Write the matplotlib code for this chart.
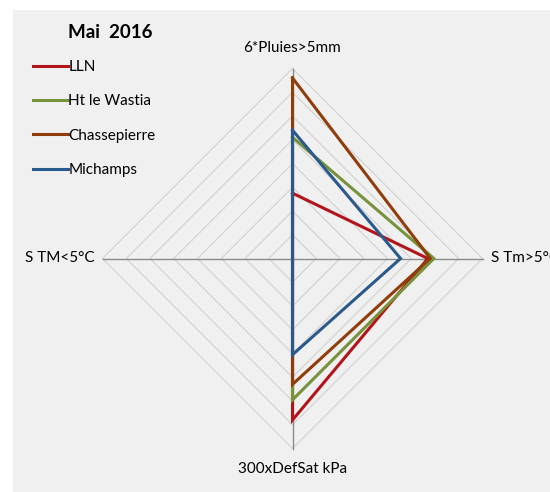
import numpy as np
import matplotlib
matplotlib.use("Agg")
import matplotlib.pyplot as plt
from matplotlib.patches import Rectangle

plt.rcParams['font.family'] = ['Lato', 'DejaVu Sans']

# axes of the radar, clockwise from top
axes_labels = ['6*Pluies>5mm', 'S Tm>5°C', '300xDefSat kPa', 'S TM<5°C']
stations = ['LLN', 'Ht le Wastia', 'Chassepierre', 'Michamps']
values = {
    'LLN':          [2.75, 5.7, 6.8, 0],
    'Ht le Wastia': [5.1, 5.95, 5.95, 0],
    'Chassepierre': [7.6, 5.8, 5.3, 0],
    'Michamps':     [5.4, 4.55, 4.05, 0],
}
colors = {'LLN': '#b3141c', 'Ht le Wastia': '#77933c',
          'Chassepierre': '#8f3d0a', 'Michamps': '#2a5a8c'}
rmax = 8

angles = np.pi / 2 - np.arange(4) * np.pi / 2

def to_xy(r):
    r = np.asarray(r, dtype=float)
    return r * np.cos(angles), r * np.sin(angles)

fig = plt.figure(figsize=(5.5, 4.92), dpi=100)
fig.patch.set_facecolor('white')
fig.patches.append(Rectangle((13 / 550, 0), 1, 1 - 10 / 492, transform=fig.transFigure,
                             facecolor='#f0f0f0', edgecolor='none', zorder=-10))

ax = fig.add_axes([0, 0, 1, 1])
ax.set_facecolor('none')
scale = 23.75
cx, cy = 292.5, 258.5
ax.set_xlim(-cx / scale, (550 - cx) / scale)
ax.set_ylim(-(492 - cy) / scale, cy / scale)
ax.set_aspect('equal')
ax.axis('off')

# diamond grid
for k in range(1, rmax + 1):
    gx, gy = to_xy([k] * 4)
    ax.plot(np.append(gx, gx[0]), np.append(gy, gy[0]), color='#d6d6d6', lw=1, zorder=1)
# spokes
for a in angles:
    ax.plot([0, rmax * np.cos(a)], [0, rmax * np.sin(a)], color='#8a8a8a', lw=1, zorder=2)

for name in stations:
    x, y = to_xy(values[name])
    ax.plot(np.append(x, x[0]), np.append(y, y[0]), color=colors[name], lw=2.2,
            label=name, zorder=3, solid_joinstyle='miter')

fs = 11
ax.text(0, rmax + 0.55, axes_labels[0], ha='center', va='bottom', fontsize=fs)
ax.text(rmax + 0.35, 0, axes_labels[1], ha='left', va='center', fontsize=fs)
ax.text(0, -rmax - 0.55, axes_labels[2], ha='center', va='top', fontsize=fs)
ax.text(-rmax - 0.35, 0, axes_labels[3], ha='right', va='center', fontsize=fs)

fig.text(68 / 550, 1 - 32 / 492, 'Mai  2016', fontsize=13.5, fontweight='bold',
         ha='left', va='center')

ax.legend(loc='upper left', bbox_to_anchor=(33 / 550, 1 - 60 / 492),
          bbox_transform=fig.transFigure, frameon=False, fontsize=fs,
          handlelength=2.3, handletextpad=0.0, labelspacing=1.33, borderpad=0,
          borderaxespad=0)

fig.savefig('out.png', dpi=100)
